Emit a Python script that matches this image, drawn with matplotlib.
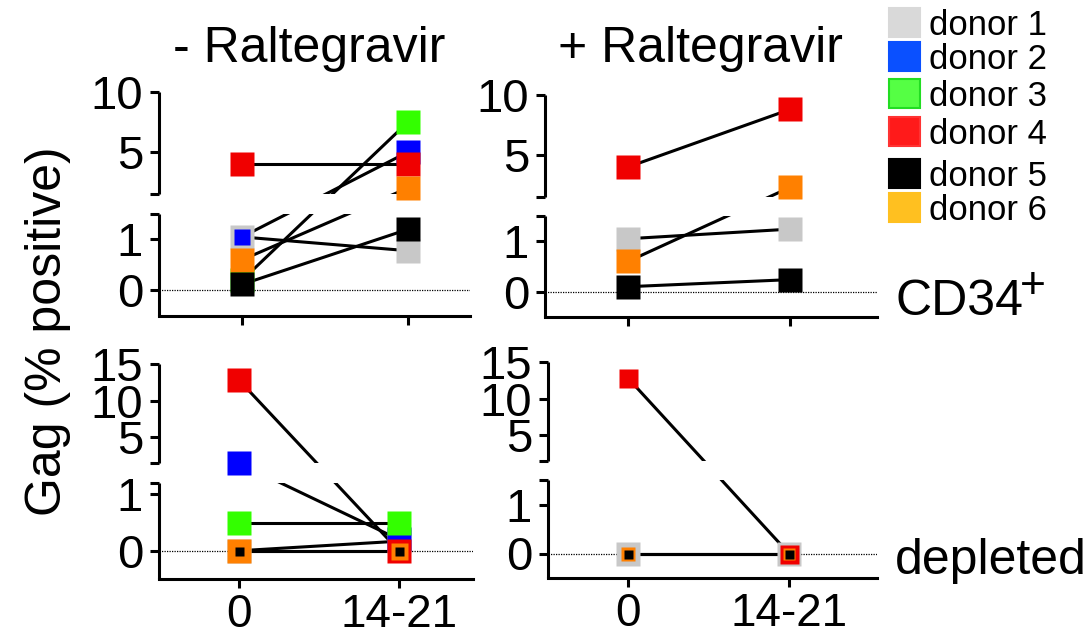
import numpy as np
import matplotlib
matplotlib.use('Agg')
import matplotlib.pyplot as plt
from matplotlib.patches import Rectangle

plt.rcParams['font.family'] = ['Liberation Sans', 'DejaVu Sans']

# --- data ---
donors = ['donor 1', 'donor 2', 'donor 3', 'donor 4', 'donor 5', 'donor 6']
day_labels = ['0', '14-21']

# CD34+ cells, Gag % positive at day 0 and day 14-21
cd34_minus_d0 = [1.05, 1.05, 0.2, 4.0, 0.12, 0.6]
cd34_minus_d14 = [0.78, 5.0, 7.5, 4.0, 1.2, 2.0]
cd34_plus_d0 = [1.05, np.nan, np.nan, 4.0, 0.1, 0.6]
cd34_plus_d14 = [1.24, np.nan, np.nan, 8.8, 0.24, 2.3]

# CD34 depleted cells
depl_minus_d0 = [0.0, 1.5, 0.5, 12.8, 0.0, 0.0]
depl_minus_d14 = [0.17, 0.2, 0.5, 0.0, 0.0, 0.0]
depl_plus_d0 = [0.0, np.nan, np.nan, 12.8, 0.0, 0.0]
depl_plus_d14 = [0.0, np.nan, np.nan, 0.0, 0.0, 0.0]

marker_colors = ['#c8c8c8', '#0000ff', '#33ff00', '#f00000', '#000000', '#ff8000']
legend_colors = ['#d9d9d9', '#0a50ff', '#55ff44', '#ff1a1a', '#000000', '#ffc020']
legend_edges = ['#d9d9d9', '#0a50ff', '#22dd22', '#ff3333', '#000000', '#ffc020']

# drawing order of the donors (black on top)
draw_order = [0, 1, 2, 3, 5, 4]

W, H = 1089, 637
fig = plt.figure(figsize=(W / 100, H / 100), dpi=100)

LW = 2.2


def px_axes(left, top, right, bottom):
    return fig.add_axes([left / W, 1 - bottom / H, (right - left) / W, (bottom - top) / H])


def make_scale(low, gap, up):
    # piecewise linear y scale: lower segment, white gap, compressed upper segment
    lo0, lo1, lpx = low
    up0, up1, upx = up
    up0 = max(up0, lo1 + 1e-6)
    xp = np.array([lo0, lo1, up0, up1], float)
    fp = np.array([0, lpx, lpx + gap, lpx + gap + upx], float)
    return (lambda y: np.interp(y, xp, fp)), (lambda t: np.interp(t, fp, xp)), up0


panels = [
    dict(box=(159, 92, 470, 316), xt=(242, 408), d0=cd34_minus_d0, d14=cd34_minus_d14,
         low=(-0.5, 1.5, 102), gap=20, up=(1.5, 10, 102), low_ticks=[0, 1], up_ticks=[5, 10],
         s0=[24, 16, 24, 24, 24, 24], s14=[24] * 6, xlab=False),
    dict(box=(545, 95, 877, 317), xt=(628, 790), d0=cd34_plus_d0, d14=cd34_plus_d14,
         low=(-0.5, 1.5, 101), gap=19, up=(1.5, 10, 102), low_ticks=[0, 1], up_ticks=[5, 10],
         s0=[24] * 6, s14=[24] * 6, xlab=False),
    dict(box=(159, 364, 473, 579), xt=(239, 399), d0=depl_minus_d0, d14=depl_minus_d14,
         low=(-0.5, 1.2, 96), gap=20, up=(1.5, 15, 99), low_ticks=[0, 1], up_ticks=[5, 10, 15],
         s0=[24, 24, 24, 24, 9, 24], s14=[24, 24, 24, 24, 9, 17], xlab=True),
    dict(box=(548, 362, 877, 578), xt=(628, 789), d0=depl_plus_d0, d14=depl_plus_d14,
         low=(-0.5, 1.5, 98), gap=19, up=(1.5, 15, 99), low_ticks=[0, 1], up_ticks=[5, 10, 15],
         s0=[24, 24, 24, 19, 9, 14], s14=[24, 24, 24, 19, 9, 12], xlab=True),
]

for p in panels:
    left, top, right, bottom = p['box']
    ax = px_axes(left, top, right, bottom)
    x0, x1 = p['xt']
    ax.set_xlim((left - x0) / (x1 - x0), (right - x0) / (x1 - x0))

    fwd, inv, up0 = make_scale(p['low'], p['gap'], p['up'])
    ax.set_yscale('function', functions=(fwd, inv))
    lo0, lo1, lpx = p['low']
    up1 = p['up'][1]
    ax.set_ylim(lo0, up1)

    # ticks: labelled ones plus the end caps of each segment
    ticks = p['low_ticks'] + [lo1, up0] + p['up_ticks']
    labels = [str(t) for t in p['low_ticks']] + ['', ''] + [str(t) for t in p['up_ticks']]
    if up1 not in p['up_ticks']:
        ticks.append(up1)
        labels.append('')
    ax.set_yticks(ticks, labels)
    ax.set_xticks([0, 1], day_labels if p['xlab'] else ['', ''])
    ax.tick_params(axis='y', direction='out', length=6.5, width=LW, labelsize=34, pad=5)
    ax.tick_params(axis='x', direction='out', length=6.5, width=LW, labelsize=33, pad=3.5)

    for s in ['top', 'right', 'left']:
        ax.spines[s].set_visible(False)
    ax.spines['bottom'].set_linewidth(LW)

    # broken left spine
    yt = ax.get_yaxis_transform()
    ax.plot([0, 0], [lo0, lo1], transform=yt, color='k', lw=LW, clip_on=False,
            solid_capstyle='butt', zorder=2.6)
    ax.plot([0, 0], [up0, up1], transform=yt, color='k', lw=LW, clip_on=False,
            solid_capstyle='butt', zorder=2.6)

    ax.axhline(0, color='k', lw=0.9, ls=(0, (1, 1)), zorder=1.8)

    total = lpx + p['gap'] + p['up'][2]
    ax.add_patch(Rectangle((0.004, lpx / total), 1, p['gap'] / total, transform=ax.transAxes,
                           facecolor='white', edgecolor='none', zorder=2.5, clip_on=False))

    for i in range(len(donors)):
        v0, v14 = p['d0'][i], p['d14'][i]
        if np.isnan(v0):
            continue
        ax.plot([0, 1], [v0, v14], color='k', lw=LW, zorder=2, clip_on=False)

    for k, i in enumerate(draw_order):
        v0, v14 = p['d0'][i], p['d14'][i]
        if np.isnan(v0):
            continue
        ax.plot([0], [v0], 's', ms=p['s0'][i] * 0.72, color=marker_colors[i], mec='none',
                zorder=3 + k * 0.1, clip_on=False)
        ax.plot([1], [v14], 's', ms=p['s14'][i] * 0.72, color=marker_colors[i], mec='none',
                zorder=3 + k * 0.1, clip_on=False)


def ftext(x, y, s, **kw):
    fig.text(x / W, 1 - y / H, s, **kw)


ftext(309, 62, '- Raltegravir', fontsize=36, ha='center', va='baseline')
ftext(700, 62, '+ Raltegravir', fontsize=36, ha='center', va='baseline')
ftext(48, 331, 'Gag (% positive)', fontsize=36, ha='center', va='center', rotation=90)
ftext(895, 315, 'CD34', fontsize=36, ha='left', va='baseline')
ftext(1020, 298, '+', fontsize=32, ha='left', va='baseline')
ftext(895, 574, 'depleted', fontsize=36, ha='left', va='baseline')

# legend
rows = [(8, 35), (42, 69), (79, 106), (117, 144), (159, 186), (193, 220)]
for i, (ytop, base) in enumerate(rows):
    fig.add_artist(Rectangle((889 / W, 1 - (ytop + 29) / H), 31 / W, 29 / H,
                             transform=fig.transFigure, facecolor=legend_colors[i],
                             edgecolor=legend_edges[i], lw=1.5))
    ftext(929, base, donors[i], fontsize=25, ha='left', va='baseline')

fig.savefig('out.png', dpi=100)
